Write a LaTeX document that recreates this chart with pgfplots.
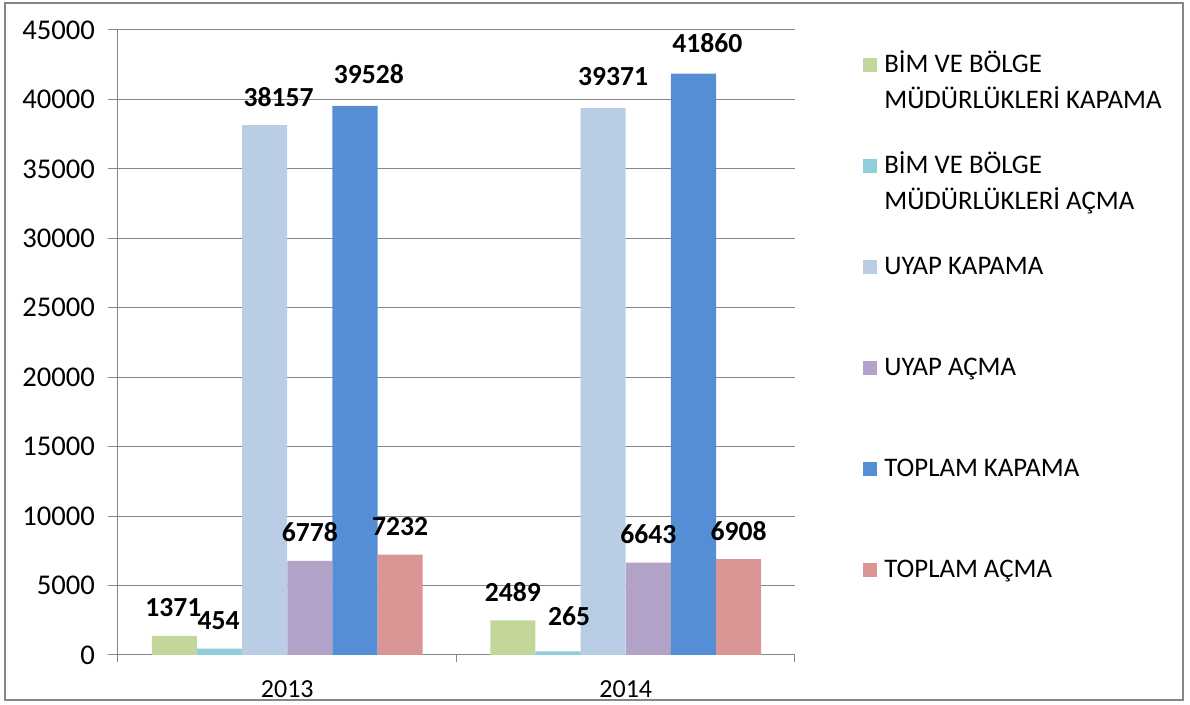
\documentclass[border=0pt]{standalone}
\usepackage{fontspec}
\setmainfont{Carlito}
\usepackage{pgfplots}
\pgfplotsset{compat=1.18}
\definecolor{gridc}{RGB}{134,134,134}
\definecolor{cA}{RGB}{196,215,155}
\definecolor{cB}{RGB}{146,205,220}
\definecolor{cC}{RGB}{185,205,229}
\definecolor{cD}{RGB}{179,162,199}
\definecolor{cE}{RGB}{85,142,213}
\definecolor{cF}{RGB}{217,150,148}
\newcommand\fy{\fontsize{14.3}{17}\selectfont}
\newcommand\fx{\fontsize{13}{15.6}\selectfont}
\newcommand\fl{\fontsize{13.4}{16}\selectfont}
\newcommand\fd{\fontsize{13.8}{16.5}\selectfont}
\begin{document}
\begin{tikzpicture}
\path (-59pt,-24.5pt) rectangle (536pt,327.5pt);
\draw[gridc, line width=0.8pt] (-56.5pt,-22.5pt) rectangle (532.5pt,326pt);
\begin{axis}[
    at={(0,0)}, anchor=south west, scale only axis,
    width=338.5pt, height=312.5pt,
    xmin=-0.5, xmax=1.5, ymin=0, ymax=45000,
    xtick={0,1}, xticklabels={2013,2014},
    minor xtick={-0.5,0.5,1.5},
    major x tick style={draw=none},
    ytick={0,5000,...,45000},
    axis x line*=bottom, axis y line*=left,
    tick align=outside, major tick length=5pt, minor tick length=3.5pt,
    tick style={gridc, line width=0.5pt},
    axis line style={gridc, line width=0.5pt},
    ymajorgrids, grid style={gridc, line width=0.5pt},
    scaled y ticks=false,
    /pgf/number format/.cd, 1000 sep={}, assume math mode=true, /pgfplots/.cd,
    yticklabel style={font=\fy, xshift=-3pt},
    xticklabel style={font=\fx, yshift=-4.5pt},
    ybar, bar width=0.1333, bar shift=0pt,
    table/row sep=\\,
    visualization depends on={\thisrow{dx} \as \dx},
    visualization depends on={\thisrow{dy} \as \dy},
    nodes near coords,
    nodes near coords style={font=\fd\bfseries, anchor=base,
        xshift=\dx pt, yshift=\dy pt},
    legend style={draw=none, fill=none, at={(1.1004,0.9616)}, anchor=north west,
        inner sep=0pt, row sep=0pt,
        nodes={inner sep=0pt, text height=9pt, text depth=41.5pt, font=\fl},
        cells={anchor=base west}},
    legend image code/.code={\fill[#1] (0pt,0pt) rectangle (7pt,7pt);
        \path (10.5pt,0pt);},
]
\addplot[fill=cA, draw=none] table {x y dx dy\\ -0.3333 1371 -0.5 9.5\\ 0.6667 2489 0 9.5\\};
\addlegendentry{\parbox[t]{145pt}{\baselineskip=18pt BİM VE BÖLGE\\MÜDÜRLÜKLERİ KAPAMA}}
\addplot[fill=cB, draw=none] table {x y dx dy\\ -0.2 454 -0.5 9.5\\ 0.8 265 5.5 13\\};
\addlegendentry{\parbox[t]{145pt}{\baselineskip=18pt BİM VE BÖLGE\\MÜDÜRLÜKLERİ AÇMA}}
\addplot[fill=cC, draw=none] table {x y dx dy\\ -0.0667 38157 7 9.5\\ 0.9333 39371 5 11.5\\};
\addlegendentry{UYAP KAPAMA}
\addplot[fill=cD, draw=none] table {x y dx dy\\ 0.0667 6778 0 9.5\\ 1.0667 6643 0 9.5\\};
\addlegendentry{UYAP AÇMA}
\addplot[fill=cE, draw=none] table {x y dx dy\\ 0.2 39528 7 11\\ 1.2 41860 7 10.5\\};
\addlegendentry{TOPLAM KAPAMA}
\addplot[fill=cF, draw=none] table {x y dx dy\\ 0.3333 7232 0 9.5\\ 1.3333 6908 0 9.5\\};
\addlegendentry{TOPLAM AÇMA}
\end{axis}
\end{tikzpicture}
\end{document}
